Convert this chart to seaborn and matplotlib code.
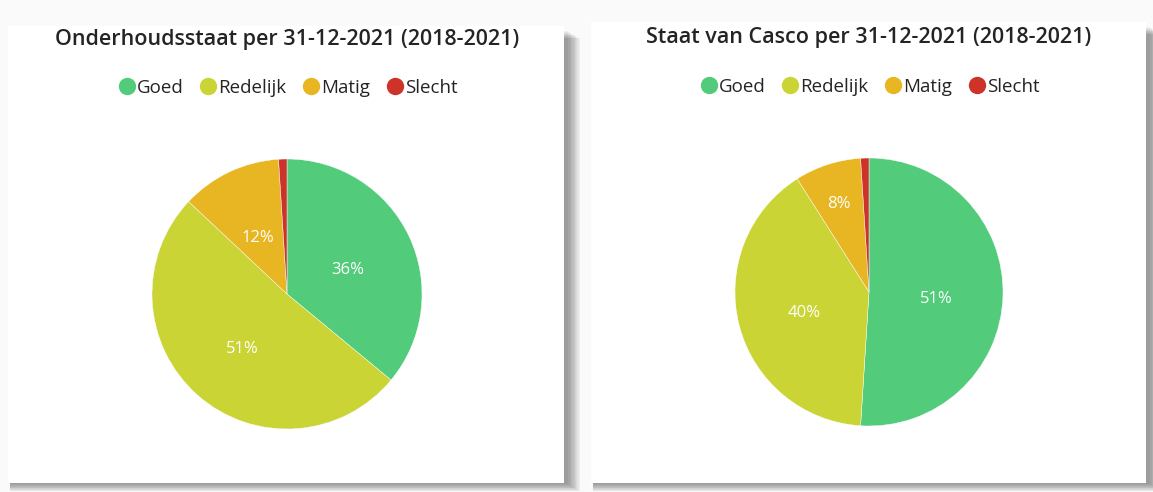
import matplotlib
matplotlib.use("Agg")
import matplotlib.pyplot as plt
from matplotlib.patches import Rectangle
from matplotlib.lines import Line2D
import seaborn as sns

categories = ["Goed", "Redelijk", "Matig", "Slecht"]
onderhoud_values = [36, 51, 12, 1]
casco_values = [51, 40, 8, 1]
titles = ["Onderhoudsstaat per 31-12-2021 (2018-2021)",
          "Staat van Casco per 31-12-2021 (2018-2021)"]
colors = ["#52CB7B", "#CAD434", "#E8B523", "#CD3329"]

sns.set_theme(style="white")
plt.rcParams["font.family"] = ["Open Sans", "DejaVu Sans"]

W, H = 1153, 492
fig = plt.figure(figsize=(W / 100, H / 100), dpi=100)
fig.patch.set_facecolor("#fafafa")

def px(x0, y0, x1, y1):
    return [x0 / W, 1 - y1 / H, (x1 - x0) / W, (y1 - y0) / H]

cards = [(8, 26, 564, 483), (591, 22, 1146, 483)]
for (x0, y0, x1, y1) in cards:
    n = 10
    for i in range(n):
        off = 14 - i * 1.3
        fig.patches.append(Rectangle(((x0 + 2) / W, 1 - (y1 + off * 0.6) / H),
                                     (x1 - x0 + off) / W, (y1 - y0 - 4) / H,
                                     transform=fig.transFigure, facecolor="black",
                                     alpha=0.045, edgecolor="none", zorder=0))
    fig.patches.append(Rectangle((x0 / W, 1 - y1 / H), (x1 - x0) / W, (y1 - y0) / H,
                                 transform=fig.transFigure, facecolor="white",
                                 edgecolor="none", zorder=1))

pies = [((287, 294, 135), onderhoud_values, titles[0], 287, 40, 88),
        ((869, 292, 134), casco_values, titles[1], 869, 38, 87)]

for (cx, cy, r), vals, title, tx, ty, ly in pies:
    ax = fig.add_axes(px(cx - r, cy - r, cx + r, cy + r))
    ax.set_zorder(3)
    ax.set_facecolor("none")
    wedges, texts, autotexts = ax.pie(
        vals, colors=colors, startangle=90, counterclock=False,
        autopct=lambda p: f"{p:.0f}%" if p >= 5 else "", pctdistance=0.5,
        wedgeprops=dict(edgecolor="white", linewidth=0.3),
        textprops=dict(color="white", fontsize=12))
    total = sum(vals)
    for v, at in zip(vals, autotexts):
        x, y = at.get_position()
        if v / total < 0.10:
            x, y = x * 0.73 / 0.5, y * 0.73 / 0.5
        at.set_position((x, y - 0.035))
    ax.set_xlim(-1, 1)
    ax.set_ylim(-1, 1)
    ax.set_aspect("equal")
    ax.axis("off")
    t = fig.text(tx / W, 1 - ty / H, title, ha="center", va="center",
                 fontsize=15.5, color="#252423", fontweight="semibold")
    t.set_zorder(4)
    handles = [Line2D([0], [0], marker="o", linestyle="none", markersize=12.5,
                      markerfacecolor=c, markeredgecolor="none") for c in colors]
    leg = fig.legend(handles, categories, loc="center", ncol=4,
                     bbox_to_anchor=(tx / W, 1 - ly / H), frameon=False,
                     handletextpad=0.0, columnspacing=0.75, handlelength=1.1,
                     fontsize=13.5, labelcolor="#252423")
    leg.set_zorder(4)

fig.savefig("out.png", dpi=100, facecolor=fig.get_facecolor())
